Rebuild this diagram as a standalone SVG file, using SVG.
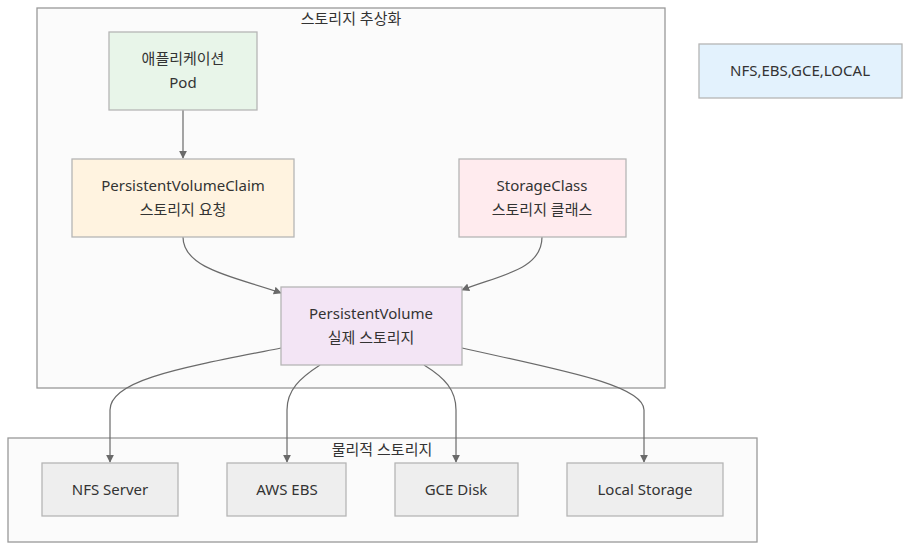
<svg xmlns="http://www.w3.org/2000/svg" width="918" height="554" viewBox="0 0 918 554">
<style>
text{font-family:"Noto Sans","Noto Sans CJK KR",sans-serif;font-size:15px;fill:#333;text-anchor:middle}
.cl{fill:#fbfbfb;stroke:#999;stroke-width:1.3}
.n{stroke:#b5b5b5;stroke-width:1.3}
.e{fill:none;stroke:#6a6a6a;stroke-width:1.2;marker-end:url(#ah)}
</style>
<defs>
<marker id="ah" viewBox="0 0 10 10" refX="9" refY="5" markerWidth="8" markerHeight="8" markerUnits="userSpaceOnUse" orient="auto">
<path d="M0,0 L10,5 L0,10 z" fill="#6a6a6a"/>
</marker>
</defs>
<rect width="918" height="554" fill="#fff"/>
<g id="cluster-abstraction">
<rect class="cl" x="37" y="8" width="628" height="380"/>
<text x="351" y="24">스토리지 추상화</text>
</g>
<g id="cluster-physical">
<rect class="cl" x="8" y="438" width="749" height="104"/>
<text x="382" y="455">물리적 스토리지</text>
</g>
<g id="edges">
<path class="e" d="M183,110 L183,158"/>
<path class="e" d="M183,237 C183,270 240,278 281,293"/>
<path class="e" d="M542,237 C542,270 500,275 462,290"/>
<path class="e" d="M281,348 C180,368 110,380 110,410 L110,462"/>
<path class="e" d="M320,365 C300,378 287,390 287,410 L287,462"/>
<path class="e" d="M424,365 C445,378 456,390 456,410 L456,462"/>
<path class="e" d="M462,348 C560,370 644,385 644,410 L644,462"/>
</g>
<g id="node-pod">
<rect class="n" x="109" y="32" width="148" height="78" fill="#e8f5e9"/>
<text x="183" y="64">애플리케이션</text>
<text x="183" y="88">Pod</text>
</g>
<g id="node-pvc">
<rect class="n" x="72" y="159" width="222" height="78" fill="#fff3e0"/>
<text x="183" y="191">PersistentVolumeClaim</text>
<text x="183" y="215">스토리지 요청</text>
</g>
<g id="node-sc">
<rect class="n" x="459" y="159" width="167" height="78" fill="#ffebee"/>
<text x="542" y="191">StorageClass</text>
<text x="542" y="215">스토리지 클래스</text>
</g>
<g id="node-pv">
<rect class="n" x="281" y="287" width="181" height="78" fill="#f3e5f5"/>
<text x="371" y="319">PersistentVolume</text>
<text x="371" y="343">실제 스토리지</text>
</g>
<g id="node-types">
<rect class="n" x="699" y="44" width="203" height="54" fill="#e3f2fd"/>
<text x="800" y="76">NFS,EBS,GCE,LOCAL</text>
</g>
<g id="node-nfs">
<rect class="n" x="42" y="463" width="136" height="53" fill="#eeeeee"/>
<text x="110" y="495">NFS Server</text>
</g>
<g id="node-ebs">
<rect class="n" x="227" y="463" width="119" height="53" fill="#eeeeee"/>
<text x="287" y="495">AWS EBS</text>
</g>
<g id="node-gce">
<rect class="n" x="395" y="463" width="123" height="53" fill="#eeeeee"/>
<text x="456" y="495">GCE Disk</text>
</g>
<g id="node-local">
<rect class="n" x="567" y="463" width="156" height="53" fill="#eeeeee"/>
<text x="645" y="495">Local Storage</text>
</g>
</svg>
